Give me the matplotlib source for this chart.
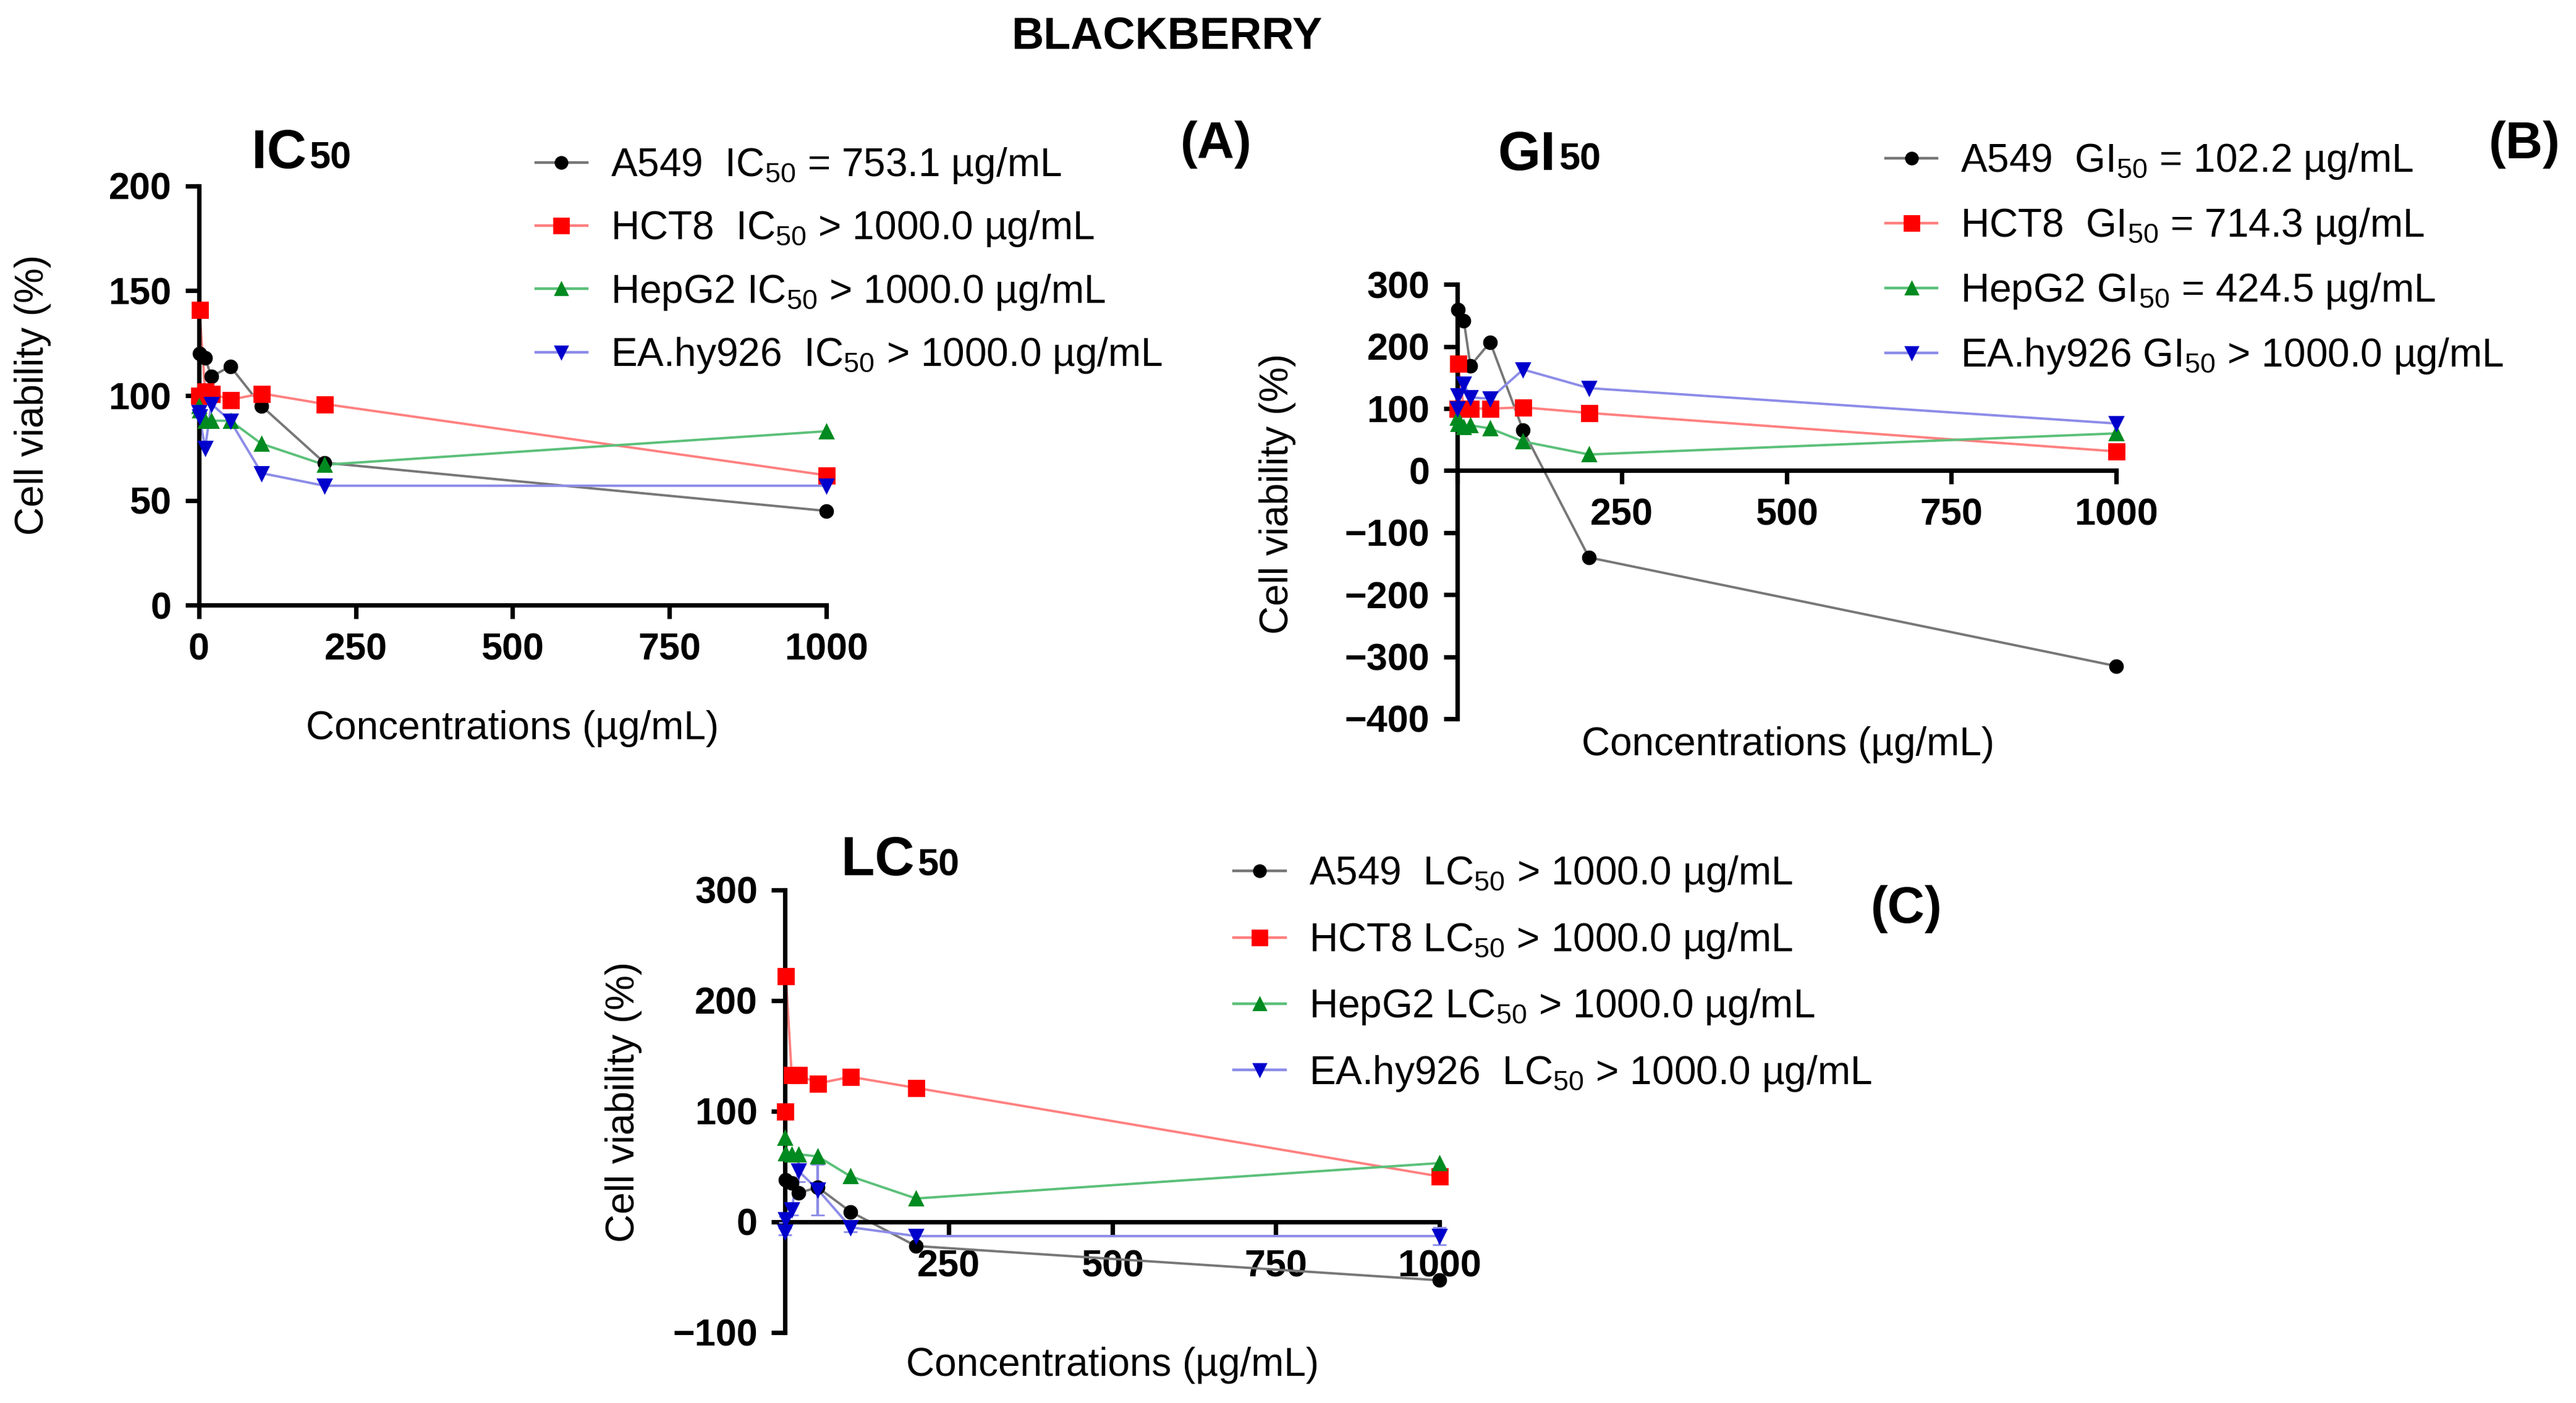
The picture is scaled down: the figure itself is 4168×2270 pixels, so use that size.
import matplotlib
matplotlib.use("Agg")
import matplotlib.pyplot as plt

plt.rcParams['font.family'] = ['Liberation Sans', 'DejaVu Sans']
plt.rcParams['mathtext.fontset'] = 'custom'
plt.rcParams['mathtext.rm'] = 'Liberation Sans'
plt.rcParams['mathtext.it'] = 'Liberation Sans'

# concentrations (ug/mL)
conc = [0, 1, 10, 20, 50, 100, 200, 1000]

# IC50 panel
ic_a549 = [100, 120, 118, 109, 114, 95, 68, 45]
ic_hct8 = [100, 141, 102, 101, 98, 101, 96, 62]
ic_hepg2 = [95, 93, 88, 88, 88, 77, 67, 83]
ic_ea = [92, 90, 75, 96, 88, 63, 57, 57]

# GI50 panel
gi_a549 = [100, 260, 242, 169, 207, 65, -140, -315]
gi_hct8 = [100, 173, 100, 100, 100, 102, 93, 31]
gi_hepg2 = [85, 75, 70, 73, 68, 47, 26, 60]
gi_ea = [100, 121, 140, 118, 116, 163, 133, 76]

# LC50 panel
lc_a549 = [100, 38, 35, 26, 31, 9, -22, -53]
lc_hct8 = [100, 222, 133, 133, 125, 131, 121, 41]
lc_hepg2 = [76, 62, 61, 61, 59, 41, 21, 53]
lc_ea = [-9, 2, 11, 46, 29, -5, -13, -13]
lc_ea_err = [3, 3, 5, 10, 23, 4, 6, 8]

ic_labels = ["A549  IC$_{50}$ = 753.1 \u00b5g/mL",
             "HCT8  IC$_{50}$ > 1000.0 \u00b5g/mL",
             "HepG2 IC$_{50}$ > 1000.0 \u00b5g/mL",
             "EA.hy926  IC$_{50}$ > 1000.0 \u00b5g/mL"]
gi_labels = ["A549  GI$_{50}$ = 102.2 \u00b5g/mL",
             "HCT8  GI$_{50}$ = 714.3 \u00b5g/mL",
             "HepG2 GI$_{50}$ = 424.5 \u00b5g/mL",
             "EA.hy926 GI$_{50}$ > 1000.0 \u00b5g/mL"]
lc_labels = ["A549  LC$_{50}$ > 1000.0 \u00b5g/mL",
             "HCT8 LC$_{50}$ > 1000.0 \u00b5g/mL",
             "HepG2 LC$_{50}$ > 1000.0 \u00b5g/mL",
             "EA.hy926  LC$_{50}$ > 1000.0 \u00b5g/mL"]

line_cols = ['#777777', '#ff8080', '#5cc07a', '#8c8ce8']
mk_cols = ['#000000', '#ff0000', '#008a20', '#0000cc']
markers = ['o', 's', '^', 'v']
msizes = [7.5, 9, 8, 8]

fig = plt.figure(figsize=(20.84, 11.35), dpi=200)


def panel(rect, series, labels, ylim, yticks, zero_axis, leg_xy, lspace, errs=None):
    ax = fig.add_axes(rect)
    for i, vals in enumerate(series):
        ax.plot(conc, vals, color=line_cols[i], lw=1.4, zorder=2, clip_on=False)
        ax.plot(conc, vals, ls='none', marker=markers[i], ms=msizes[i],
                color=mk_cols[i], zorder=3, clip_on=False)
        if errs is not None and errs[i] is not None:
            ax.errorbar(conc, vals, yerr=errs[i], fmt='none', ecolor=line_cols[i],
                        elinewidth=1.6, capsize=4, zorder=2, clip_on=False)
    handles = [plt.Line2D([], [], color=line_cols[i], lw=1.6, marker=markers[i],
                          ms=msizes[i] - 0.5, mfc=mk_cols[i], mec=mk_cols[i])
               for i in range(4)]
    ax.legend(handles, labels, loc='upper left', bbox_to_anchor=leg_xy,
              bbox_transform=fig.transFigure, frameon=False, fontsize=23,
              handlelength=1.3, handletextpad=0.6, labelspacing=lspace,
              borderaxespad=0, borderpad=0)
    ax.set_xlim(0, 1000)
    ax.set_ylim(*ylim)
    ax.set_yticks(yticks)
    ax.spines['top'].set_visible(False)
    ax.spines['right'].set_visible(False)
    ax.spines['left'].set_linewidth(2.6)
    ax.spines['bottom'].set_linewidth(2.6)
    ax.set_xticks([0, 250, 500, 750, 1000])
    if zero_axis:
        ax.spines['bottom'].set_position(('data', 0))
        ax.set_xticklabels(['', '250', '500', '750', '1000'])
    else:
        ax.set_xticklabels(['0', '250', '500', '750', '1000'])
    ax.tick_params(width=2.6, length=8, labelsize=22, pad=8)
    for t in ax.get_xticklabels() + ax.get_yticklabels():
        t.set_fontweight('bold')
    ax.set_facecolor('none')
    return ax


panel([0.0772, 0.5686, 0.2436, 0.2989], [ic_a549, ic_hct8, ic_hepg2, ic_ea],
      ic_labels, (0, 200), [0, 50, 100, 150, 200], False, (0.208, 0.896), 0.60)
panel([0.5657, 0.4877, 0.2557, 0.3095], [gi_a549, gi_hct8, gi_hepg2, gi_ea],
      gi_labels, (-400, 300), list(range(-400, 301, 100)), True, (0.732, 0.899), 0.64)
panel([0.3048, 0.0504, 0.2539, 0.3153], [lc_a549, lc_hct8, lc_hepg2, lc_ea],
      lc_labels, (-100, 300), [-100, 0, 100, 200, 300], True, (0.479, 0.391), 0.68,
      errs=[None, None, None, lc_ea_err])


def big_title(x, y, main):
    fig.text(x, y, main, fontsize=32, fontweight='bold', ha='right', va='baseline')
    fig.text(x + 0.001, y, '50', fontsize=22, fontweight='bold', ha='left', va='baseline')


big_title(0.119, 0.880, 'IC')
big_title(0.604, 0.879, 'GI')
big_title(0.355, 0.376, 'LC')

fig.text(0.453, 0.974, 'BLACKBERRY', fontsize=26, fontweight='bold', ha='center', va='center')
fig.text(0.472, 0.897, '(A)', fontsize=30, fontweight='bold', ha='center', va='center')
fig.text(0.980, 0.897, '(B)', fontsize=30, fontweight='bold', ha='center', va='center')
fig.text(0.740, 0.352, '(C)', fontsize=30, fontweight='bold', ha='center', va='center')

fig.text(0.0128, 0.7186, 'Cell viability (%)', fontsize=23, rotation=90, ha='center', va='center')
fig.text(0.496, 0.648, 'Cell viability (%)', fontsize=23, rotation=90, ha='center', va='center')
fig.text(0.242, 0.2145, 'Cell viability (%)', fontsize=23, rotation=90, ha='center', va='center')

fig.text(0.199, 0.4807, 'Concentrations (\u00b5g/mL)', fontsize=23, ha='center', va='center')
fig.text(0.694, 0.469, 'Concentrations (\u00b5g/mL)', fontsize=23, ha='center', va='center')
fig.text(0.4318, 0.027, 'Concentrations (\u00b5g/mL)', fontsize=23, ha='center', va='center')

fig.savefig('out.png', dpi=200, facecolor='white')
